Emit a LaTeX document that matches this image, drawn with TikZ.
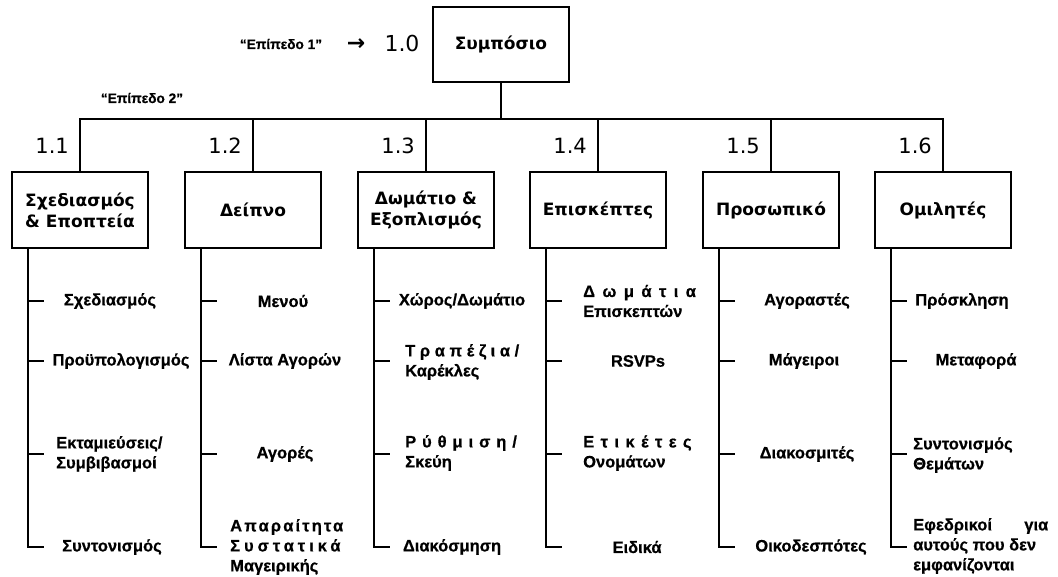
\documentclass[tikz,border=0pt]{standalone}
\usepackage{fontspec}
\setmainfont{Liberation Sans}[BoldFeatures={FakeBold=0.6}]
\newfontfamily\boxfont{DejaVu Sans}
\usetikzlibrary{calc}
\newcommand{\ls}[2]{{\addfontfeature{LetterSpace=#1}#2}}
\tikzset{
  wbs/.style={draw, line width=2.6pt, minimum width=136pt, minimum height=76pt,
    align=center, inner sep=0pt, font=\boxfont\bfseries\fontsize{17}{21}\selectfont},
  num/.style={anchor=east, inner sep=0pt, font=\boxfont\fontsize{21}{24}\selectfont},
  item/.style={inner sep=0pt, font=\bfseries\fontsize{16.5}{20}\selectfont},
  iteml/.style={item, anchor=west, align=left},
  lvl/.style={inner sep=0pt, font=\bfseries\fontsize{13.7}{15}\selectfont},
  link/.style={line width=2.6pt},
  tick/.style={line width=1.1pt},
}
\begin{document}
\begin{tikzpicture}[x=1pt,y=-1pt]
\useasboundingbox (0,0) rectangle (1058,577);
% level 1
\node[wbs, minimum width=136pt, minimum height=75pt] (root) at (501,44.5) {Συμπόσιο};
\node[lvl] (lv1) at (281,44) {“Επίπεδο 1”};
\node[inner sep=0pt, font=\boxfont\bfseries\fontsize{22}{24}\selectfont] (arr) at (356,45) {→};
\node[inner sep=0pt, font=\boxfont\fontsize{22}{24}\selectfont] (n10) at (402,43) {1.0};
\node[lvl] (lv2) at (142,98) {“Επίπεδο 2”};
\coordinate (bar) at (0,119);
% level 2 boxes
\node[wbs] (b1) at (80,210) {Σχεδιασμός\\\& Εποπτεία};
\node[wbs] (b2) at (253,210) {Δείπνο};
\node[wbs] (b3) at (426,210) {Δωμάτιο \&\\Εξοπλισμός};
\node[wbs] (b4) at (598,210) {Επισκέπτες};
\node[wbs] (b5) at (771,210) {Προσωπικό};
\node[wbs] (b6) at (943,210) {Ομιλητές};
\draw[link] (root.south) -- (root.south |- bar);
\draw[link, line cap=rect] (b1.north |- bar) -- (b6.north |- bar);
\foreach \i/\t in {1/1.1,2/1.2,3/1.3,4/1.4,5/1.5,6/1.6}{
  \draw[link] (b\i.north) -- (b\i.north |- bar);
  \node[num] (n\i) at ($(b\i.north |- 0,146)+(-11,0)$) {\t};
  \coordinate (v\i) at ($(b\i.south)+(-52,0)$);
  \coordinate (e\i) at (v\i |- 0,547);
  \draw[link] (v\i) -- ($(e\i)+(0,1.2)$);
  \foreach \y in {301,361,454}{
    \draw[tick] (v\i |- 0,\y) -- ++(16,0);
  }
  \draw[tick] (e\i) -- ++(16,0);
}
% column 1
\node[item] (c1r1) at (110,301) {Σχεδιασμός};
\node[item] (c1r2) at (121,361) {Προϋπολογισμός};
\node[iteml] (c1r3) at (56,454) {Εκταμιεύσεις/\\Συμβιβασμοί};
\node[item] (c1r4) at (112,547) {Συντονισμός};
% column 2
\node[item] (c2r1) at (283,301) {Μενού};
\node[item] (c2r2) at (285,361) {Λίστα Αγορών};
\node[item] (c2r3) at (285,454) {Αγορές};
\node[iteml] (c2r4) at (230,547) {\ls{13}{Απαραίτητα}\\\ls{24}{Συστατικά}\\Μαγειρικής};
% column 3
\node[item] (c3r1) at (462,301) {Χώρος/Δωμάτιο};
\node[iteml] (c3r2) at (405,362) {\ls{28}{Τραπέζια/}\\Καρέκλες};
\node[iteml] (c3r3) at (405,453) {\ls{36}{Ρύθμιση/}\\Σκεύη};
\node[item] (c3r4) at (452,547) {Διακόσμηση};
% column 4
\node[iteml] (c4r1) at (583,301) {\ls{45}{Δωμάτια}\\Επισκεπτών};
\node[item] (c4r2) at (638,361) {RSVPs};
\node[iteml] (c4r3) at (583,453) {\ls{39}{Ετικέτες}\\Ονομάτων};
\node[item] (c4r4) at (637,547) {Ειδικά};
% column 5
\node[item] (c5r1) at (807,301) {Αγοραστές};
\node[item] (c5r2) at (804,361) {Μάγειροι};
\node[item] (c5r3) at (807,454) {Διακοσμιτές};
\node[item] (c5r4) at (811,547) {Οικοδεσπότες};
% column 6
\node[item] (c6r1) at (962,301) {Πρόσκληση};
\node[item] (c6r2) at (976,361) {Μεταφορά};
\node[iteml] (c6r3) at (913,455) {Συντονισμός\\Θεμάτων};
\node[iteml] (c6r4) at (913,546) {\makebox[135pt][s]{Εφεδρικοί για}\\αυτούς που δεν\\εμφανίζονται};
\end{tikzpicture}
\end{document}
